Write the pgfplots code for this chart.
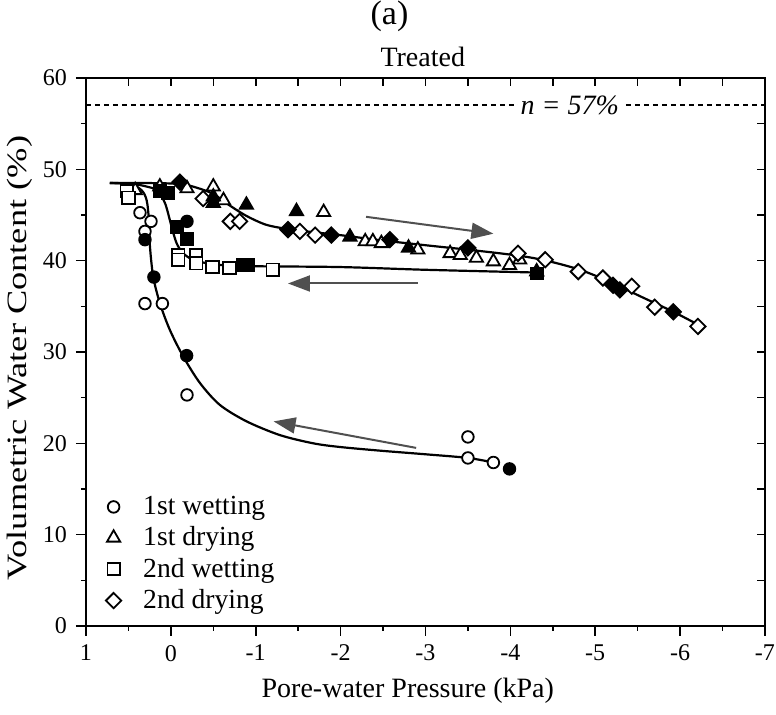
\documentclass[border=0pt]{standalone}
\usepackage{graphicx}
\usepackage{fontspec}
\setmainfont{Liberation Serif}
\usepackage{pgfplots}
\pgfplotsset{compat=1.18}
\usetikzlibrary{arrows.meta}
\definecolor{arrowgrey}{HTML}{505050}

\pgfplotsset{
  openmk/.style={only marks, mark options={fill=white, draw=black, line width=0.9pt, solid}},
  fullmk/.style={only marks, mark options={fill=black, draw=black, line width=0.9pt, solid}},
  fitline/.style={smooth, black, line width=1.1pt, no marks, forget plot},
}
\tikzset{grarrow/.style={draw=arrowgrey, line width=1pt, -{Triangle[length=11pt, width=8pt]}}}

\begin{document}
\begin{tikzpicture}[x=1pt, y=1pt]
\begin{axis}[
    at={(43pt,44.5pt)}, anchor=south west,
    scale only axis, width=339.5pt, height=274pt,
    clip=false,
    x dir=reverse,
    xmin=-7, xmax=1, ymin=0, ymax=60,
    xtick={-7,...,1}, ytick={0,10,...,60},
    minor x tick num=1, minor y tick num=1,
    xtick pos=left, ytick pos=left,
    tick align=outside,
    major tick length=5pt, minor tick length=2.5pt,
    axis line style={line width=0.8pt},
    tick style={line width=0.8pt, black},
    /pgf/number format/assume math mode=true,
    tick label style={font=\fontsize{12}{14}\selectfont},
    xticklabel style={yshift=-1pt},
    yticklabel style={xshift=-1pt},
    xlabel={Pore-water Pressure (kPa)},
    ylabel={\scalebox{1.3}[1]{Volumetric Water Content (\%)}},
    label style={font=\fontsize{14}{16}\selectfont},
    xlabel style={at={(axis description cs:0.474,-0.119)}, anchor=center},
    ylabel style={at={(axis description cs:-0.097,0.489)}, anchor=center},
    legend cell align=left,
    legend style={draw=none, fill=none, at={(axis description cs:0.020,0.252)},
        anchor=north west, font=\fontsize{13.8}{15}\selectfont, row sep=0.6pt,
        /tikz/every odd column/.append style={column sep=9pt}},
]

% porosity line
\addplot[black, line width=1pt, dash pattern=on 2.5pt off 2pt, forget plot]
  coordinates {(1,57) (-7,57)};
\node[fill=white, inner sep=1.5pt, font=\itshape\fontsize{14}{16}\selectfont]
  at (axis cs:-4.70,57) {n = 57\%};

% fitted curves
\addplot[fitline] coordinates {
 (0.72,48.5) (0.48,48.4) (0.344,47.7) (0.285,46.6) (0.258,44.4) (0.246,41.5)
 (0.207,38.2) (0.128,35.3) (0.011,32.4) (-0.146,29.5) (-0.343,26.6) (-0.578,24.2)
 (-0.893,22.4) (-1.285,20.9) (-1.678,20.0) (-1.99,19.6) (-2.46,19.2) (-3.0,18.8)
 (-3.5,18.4) (-3.8,17.9)};
\addplot[fitline] coordinates {
 (0.72,48.5) (0.3,48.5) (-0.107,48.4) (-0.3,48.0) (-0.5,47.3) (-0.70,46.0)
 (-0.89,44.9) (-1.1,44.0) (-1.285,43.6) (-1.6,43.2) (-1.99,42.8) (-2.5,42.2)
 (-3.09,41.6) (-3.5,41.2) (-3.88,40.8) (-4.2,40.4) (-4.47,39.9) (-4.82,39.0)
 (-5.17,37.7) (-5.53,36.1) (-5.92,34.4) (-6.21,33.0)};
\addplot[fitline] coordinates {
 (0.72,48.5) (0.45,48.4) (0.28,48.1) (0.167,47.7) (0.069,46.3) (-0.009,43.7)
 (-0.068,41.9) (-0.146,40.8) (-0.264,40.1) (-0.50,39.6) (-0.893,39.4)
 (-1.99,39.3) (-3.0,39.0) (-4.3,38.7)};

% open markers (legend)
\addplot[openmk, mark=*, mark size=2.9pt] coordinates {
 (0.364,45.25) (0.234,44.3) (0.305,43.2) (0.305,35.3) (0.10,35.3) (-0.19,25.3)
 (-3.50,20.7) (-3.50,18.4) (-3.80,17.9)};
\addlegendentry{1st wetting}
\addplot[openmk, mark=triangle*, mark size=3.8pt] coordinates {
 (0.42,47.7) (0.13,48.1) (-0.19,47.9) (-0.50,48.1) (-0.62,46.6) (-1.80,45.3)
 (-2.29,42.1) (-2.38,42.1) (-2.48,41.9) (-2.91,41.2) (-3.29,40.8) (-3.41,40.6)
 (-3.60,40.3) (-3.80,39.9) (-3.99,39.5) (-4.11,40.1)};
\addlegendentry{1st drying}
\addplot[openmk, mark=square*, mark size=3.1pt] coordinates {
 (0.52,47.6) (0.50,46.9) (-0.087,40.6) (-0.087,40.1) (-0.296,40.6) (-0.30,39.7)
 (-0.49,39.3) (-0.69,39.2) (-1.20,39.0)};
\addlegendentry{2nd wetting}
\addplot[openmk, mark=square*, mark size=2.7pt, every mark/.append style={rotate=45}] coordinates {
 (-0.38,46.8) (-0.70,44.3) (-0.81,44.3) (-1.52,43.2) (-1.70,42.8) (-4.09,40.8)
 (-4.41,40.1) (-4.80,38.8) (-5.09,38.1) (-5.43,37.2) (-5.70,34.9) (-6.21,32.8)};
\addlegendentry{2nd drying}

% filled markers
\addplot[fullmk, mark=*, mark size=2.9pt, forget plot] coordinates {
 (0.305,42.3) (0.20,38.2) (-0.186,29.6) (-0.19,44.3) (-3.99,17.2)};
\addplot[fullmk, mark=square*, mark size=3.0pt, forget plot] coordinates {
 (0.13,47.6) (0.03,47.4) (-0.07,43.7) (-0.19,42.4) (-0.85,39.5) (-0.91,39.5) (-4.31,38.6)};
\addplot[fullmk, mark=triangle*, mark size=3.8pt, forget plot] coordinates {
 (-0.50,47.0) (-0.50,46.3) (-0.89,46.1) (-1.48,45.4) (-2.11,42.6) (-2.80,41.4) (-4.31,38.8)};
\addplot[fullmk, mark=square*, mark size=2.7pt, every mark/.append style={rotate=45}, forget plot] coordinates {
 (-0.107,48.6) (-1.38,43.4) (-1.89,42.8) (-2.58,42.3) (-3.50,41.4) (-5.21,37.3)
 (-5.29,36.8) (-5.92,34.4)};

% direction arrows
\draw[grarrow] (axis cs:-2.30,44.8) -- (axis cs:-3.80,42.95);
\draw[grarrow] (axis cs:-2.91,37.5) -- (axis cs:-1.38,37.5);
\draw[grarrow] (axis cs:-2.89,19.5) -- (axis cs:-1.21,22.4);

% titles
\node[font=\fontsize{17}{19}\selectfont] at (axis description cs:0.447,1.113) {(a)};
\node[font=\fontsize{14}{16}\selectfont] at (axis description cs:0.496,1.038) {Treated};
\end{axis}

% inward ticks on top and right
\begin{axis}[
    at={(43pt,44.5pt)}, anchor=south west,
    scale only axis, width=339.5pt, height=274pt,
    x dir=reverse,
    xmin=-7, xmax=1, ymin=0, ymax=60,
    xtick={-7,-6.5,...,1}, ytick={0,5,...,60},
    xtick pos=right, ytick pos=right,
    tick align=inside,
    major tick length=4pt,
    xticklabels={}, yticklabels={},
    axis line style={line width=0.8pt},
    tick style={line width=0.8pt, black},
]
\addplot[draw=none] coordinates {(0,0)};
\end{axis}

\pgfresetboundingbox
\path[use as bounding box] (0,0) rectangle (388,357.5);
\end{tikzpicture}
\end{document}
